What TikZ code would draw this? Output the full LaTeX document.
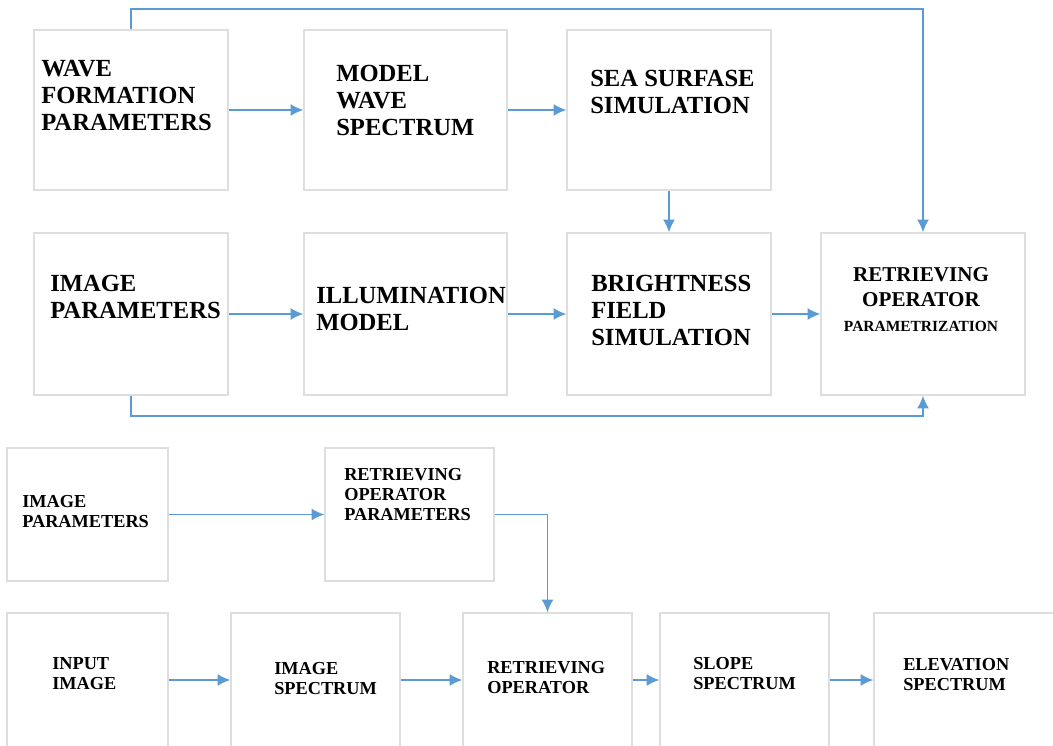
\documentclass[tikz,border=0pt]{standalone}
\usepackage{fontspec}
\setmainfont{Liberation Serif}
\usetikzlibrary{fit,arrows.meta}
\definecolor{flowblue}{HTML}{5B9BD5}
\definecolor{boxgray}{HTML}{DEDEDE}

\begin{document}
\begin{tikzpicture}[x=0.025cm,y=-0.025cm,>={Latex[length=3.2mm,width=3mm]},
        blk/.style={draw=boxgray,line width=0.8pt,inner sep=0pt},
        lbl/.style={anchor=north west,inner sep=0pt,align=left,font=\bfseries\fontsize{17.5}{19.3}\selectfont},
        lbls/.style={anchor=north west,inner sep=0pt,align=left,font=\bfseries\fontsize{13}{14.3}\selectfont},
        flow/.style={->,draw=flowblue,line width=1.4pt}]
        \useasboundingbox (0,0) rectangle (1053,745);
        % simulation part
        \node[blk,fit={(34,30) (228,190)}] (wavepar) {};
        \node[blk,fit={(304,30) (507,190)}] (modspec) {};
        \node[blk,fit={(567,30) (771,190)}] (seasim) {};
        \node[blk,fit={(34,233) (228,395)}] (imgpar) {};
        \node[blk,fit={(304,233) (507,395)}] (illum) {};
        \node[blk,fit={(567,233) (771,395)}] (brightsim) {};
        \node[blk,fit={(821,233) (1025,395)}] (retparm) {};
        \node[lbl] (waveparT) at (41,60) {WAVE\\FORMATION\\PARAMETERS};
        \node[lbl] (modspecT) at (336,65) {MODEL\\WAVE\\SPECTRUM};
        \node[lbl] (seasimT) at (590,70) {SEA SURFASE\\SIMULATION};
        \node[lbl] (imgparT) at (50,275) {IMAGE\\PARAMETERS};
        \node[lbl] (illumT) at (316,287) {ILLUMINATION\\MODEL};
        \node[lbl] (brightsimT) at (591,275) {BRIGHTNESS\\FIELD\\SIMULATION};
        \node[anchor=north,inner sep=0pt,align=center,font=\bfseries\fontsize{15}{17.8}\selectfont] (retparmT) at (921,267) {RETRIEVING\\OPERATOR\\{\fontsize{11}{17.8}\selectfont PARAMETRIZATION}};
        \draw[flow] (wavepar) -- (modspec);
        \draw[flow] (modspec) -- (seasim);
        \draw[flow] (seasim) -- (brightsim);
        \draw[flow] (imgpar) -- (illum);
        \draw[flow] (illum) -- (brightsim);
        \draw[flow] (brightsim) -- (retparm);
        \draw[flow] (wavepar.north) -- ++(0,-20) -| (retparm.north);
        \draw[flow] (imgpar.south) -- ++(0,20) -| (retparm.south);
        % retrieval part
        \node[blk,fit={(7,448) (168,581)}] (imgparb) {};
        \node[blk,fit={(325,448) (494,581)}] (retopar) {};
        \node[blk,fit={(7,613) (168,747)}] (input) {};
        \node[blk,fit={(231,613) (400,747)}] (imgspec) {};
        \node[blk,fit={(463,613) (632,747)}] (retop) {};
        \node[blk,fit={(660,613) (829,747)}] (slope) {};
        \node[blk,fit={(874,613) (1060,747)}] (elev) {};
        \node[lbls] (imgparbT) at (22,495) {IMAGE\\PARAMETERS};
        \node[lbls] (retoparT) at (344,468) {RETRIEVING\\OPERATOR\\PARAMETERS};
        \node[lbls] (inputT) at (52,657) {INPUT\\IMAGE};
        \node[lbls] (imgspecT) at (274,662) {IMAGE\\SPECTRUM};
        \node[lbls] (retopT) at (487,661) {RETRIEVING\\OPERATOR};
        \node[lbls] (slopeT) at (693,657) {SLOPE\\SPECTRUM};
        \node[lbls] (elevT) at (903,658) {ELEVATION\\SPECTRUM};
        \draw[flow] (imgparb) -- (retopar);
        \draw[flow] (retopar.east) -| (retop.north);
        \draw[flow] (input) -- (imgspec);
        \draw[flow] (imgspec) -- (retop);
        \draw[flow] (retop) -- (slope);
        \draw[flow] (slope) -- (elev);
    \end{tikzpicture}
\end{document}
